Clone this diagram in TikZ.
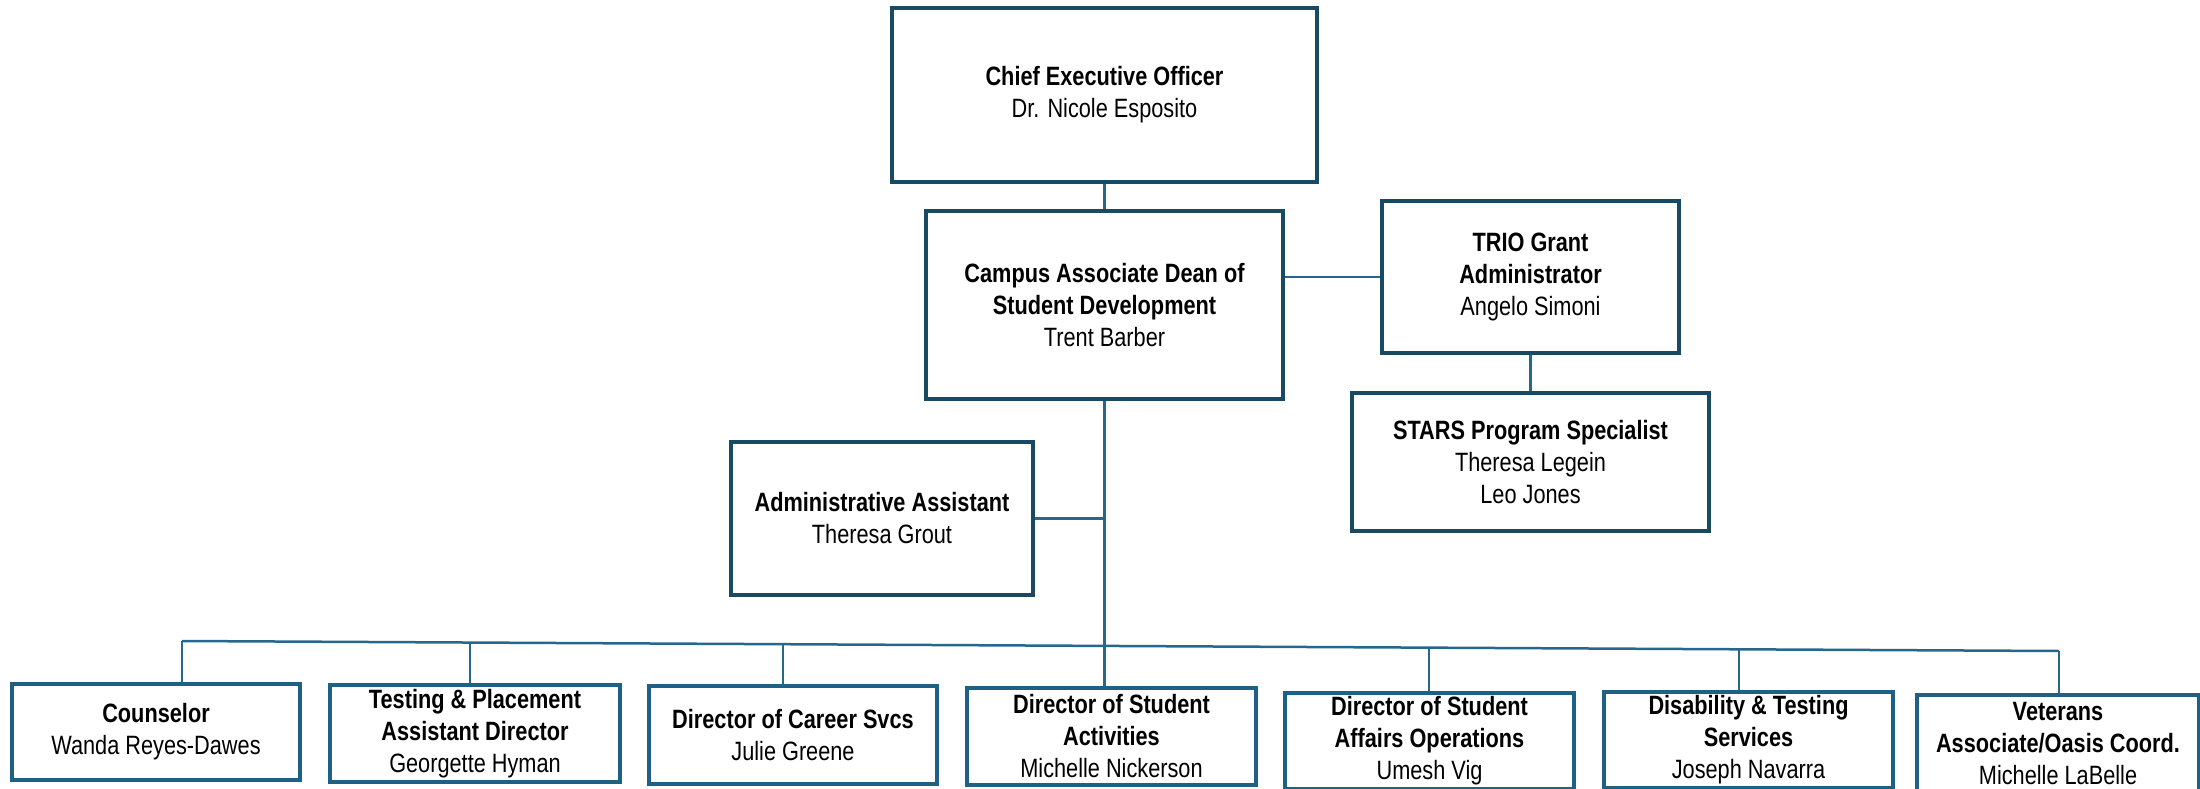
\documentclass[tikz,border=0pt]{standalone}
\usepackage{fontspec}
\setmainfont[FakeStretch=0.82]{Liberation Sans}
\definecolor{topc}{RGB}{24,74,100}
\definecolor{botc}{RGB}{31,96,133}
\definecolor{linec}{RGB}{38,104,140}
\begin{document}
\begin{tikzpicture}[x=1pt,y=-1pt,
  box/.style={draw=topc,line width=4pt,fill=white,anchor=north west,inner sep=0pt,
    align=center,font=\fontsize{26.5}{32}\selectfont},
  bbox/.style={box,draw=botc},
  conn/.style={draw=linec,line width=2.5pt}]
\useasboundingbox (0,0) rectangle (2200,789);
% top part
\node[box,minimum width=425pt,minimum height=174pt] (ceo) at (890,6)
  {\textbf{Chief Executive Officer}\\Dr. Nicole Esposito};
\node[box,minimum width=357pt,minimum height=188pt] (dean) at (924,209)
  {\textbf{Campus Associate Dean of}\\\textbf{Student Development}\\Trent Barber};
\node[box,minimum width=297pt,minimum height=152pt] (trio) at (1380,199)
  {\textbf{TRIO Grant}\\\textbf{Administrator}\\Angelo Simoni};
\node[box,minimum width=357pt,minimum height=138pt] (stars) at (1350,391)
  {\textbf{STARS Program Specialist}\\Theresa Legein\\Leo Jones};
\node[box,minimum width=302pt,minimum height=153pt] (admin) at (729,440)
  {\textbf{Administrative Assistant}\\Theresa Grout};
% bottom row
\node[bbox,minimum width=288pt,minimum height=96pt] (b1) at (10,682)
  {\textbf{Counselor}\\Wanda Reyes-Dawes};
\node[bbox,minimum width=290pt,minimum height=97pt] (b2) at (328,683)
  {\textbf{Testing \& Placement}\\\textbf{Assistant Director}\\Georgette Hyman};
\node[bbox,minimum width=288pt,minimum height=98pt] (b3) at (647,684)
  {\textbf{Director of Career Svcs}\\Julie Greene};
\node[bbox,minimum width=289pt,minimum height=97pt] (b4) at (965,686)
  {\textbf{Director of Student}\\\textbf{Activities}\\Michelle Nickerson};
\node[bbox,minimum width=289pt,minimum height=96pt] (b5) at (1283,691)
  {\textbf{Director of Student}\\\textbf{Affairs Operations}\\Umesh Vig};
\node[bbox,minimum width=289pt,minimum height=96pt] (b6) at (1602,690)
  {\textbf{Disability \& Testing}\\\textbf{Services}\\Joseph Navarra};
\node[bbox,minimum width=282pt,minimum height=98pt] (b7) at (1915,693)
  {\textbf{Veterans}\\\textbf{Associate/Oasis Coord.}\\Michelle LaBelle};
% connectors
\draw[conn] (ceo.south) -- (dean.north);
\draw[conn] (trio.west) -- (trio.west -| dean.east);
\draw[conn] (trio.south) -- (stars.north);
\draw[conn] (dean.south) -- (dean.south |- b4.north);
\draw[conn] (admin.east) -- (admin.east -| dean.south);
\coordinate (d1) at (182,641);
\coordinate (d2) at (470,642.5);
\coordinate (d3) at (783,644.2);
\coordinate (d5) at (1429,647.6);
\coordinate (d6) at (1739,649.3);
\coordinate (d7) at (2059,651);
\draw[conn] (d1) -- (d7);
\draw[conn] (d1) -- (d1 |- b1.north);
\draw[conn] (d2) -- (d2 |- b2.north);
\draw[conn] (d3) -- (d3 |- b3.north);
\draw[conn] (d5) -- (d5 |- b5.north);
\draw[conn] (d6) -- (d6 |- b6.north);
\draw[conn] (d7) -- (d7 |- b7.north);
\end{tikzpicture}
\end{document}
